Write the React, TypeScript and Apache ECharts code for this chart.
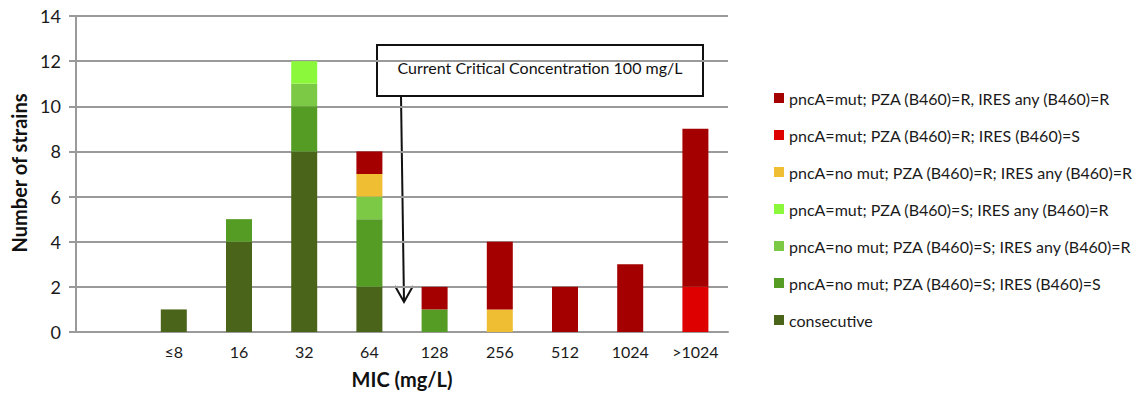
import React, { useEffect, useRef } from "react";
import * as echarts from "echarts";

const categories = ["", "≤8", "16", "32", "64", "128", "256", "512", "1024", ">1024"];

const consecutive = [0, 1, 4, 8, 2, 0, 0, 0, 0, 0];
const noMutSS = [0, 0, 1, 2, 3, 1, 0, 0, 0, 0];
const noMutSR = [0, 0, 0, 1, 1, 0, 0, 0, 0, 0];
const mutSR = [0, 0, 0, 1, 0, 0, 0, 0, 0, 0];
const noMutRR = [0, 0, 0, 0, 1, 0, 1, 0, 0, 0];
const mutRS = [0, 0, 0, 0, 0, 0, 0, 0, 0, 2];
const mutRR = [0, 0, 0, 0, 1, 1, 3, 2, 3, 7];

const seriesDefs = [
  { name: "consecutive", data: consecutive, color: "#4A6419" },
  { name: "pncA=no mut; PZA (B460)=S; IRES (B460)=S", data: noMutSS, color: "#559C24" },
  { name: "pncA=no mut; PZA (B460)=S; IRES any (B460)=R", data: noMutSR, color: "#7CC945" },
  { name: "pncA=mut; PZA (B460)=S; IRES any (B460)=R", data: mutSR, color: "#8CF83C" },
  { name: "pncA=no mut; PZA (B460)=R; IRES any (B460)=R", data: noMutRR, color: "#F0BE32" },
  { name: "pncA=mut; PZA (B460)=R; IRES (B460)=S", data: mutRS, color: "#DE0000" },
  { name: "pncA=mut; PZA (B460)=R, IRES any (B460)=R", data: mutRR, color: "#A50000" },
];

const FONT = "Lato, 'Open Sans', sans-serif";

export default function App() {
  const ref = useRef<HTMLDivElement>(null);
  useEffect(() => {
    if (!ref.current) return;
    const chart = echarts.init(ref.current, undefined, { renderer: "svg" });
    chart.setOption({
      animation: false,
      backgroundColor: "#ffffff",
      textStyle: { fontFamily: FONT },
      grid: { left: 76, right: 406, top: 16, bottom: 61, containLabel: false },
      legend: {
        orient: "vertical",
        left: 774,
        top: 90,
        padding: 0,
        itemWidth: 10,
        itemHeight: 10,
        itemGap: 21,
        icon: "rect",
        data: seriesDefs.map((s) => s.name).reverse(),
        textStyle: { fontFamily: FONT, fontSize: 16, color: "#1a1a1a", lineHeight: 16 },
      },
      xAxis: {
        type: "category",
        data: categories,
        axisLine: { show: true, lineStyle: { color: "#9a9a9a", width: 2 } },
        axisTick: { show: false },
        axisLabel: { fontFamily: FONT, fontSize: 16, color: "#1a1a1a", margin: 11 },
      },
      yAxis: {
        type: "value",
        min: 0,
        max: 14,
        interval: 2,
        axisLine: { show: true, lineStyle: { color: "#9a9a9a", width: 2 } },
        axisTick: { show: true, length: 7, lineStyle: { color: "#9a9a9a", width: 2 } },
        splitLine: { show: true, lineStyle: { color: "#9a9a9a", width: 2 } },
        axisLabel: { fontFamily: FONT, fontSize: 18, color: "#1a1a1a", margin: 15 },
      },
      series: seriesDefs.map((s) => ({
        name: s.name,
        type: "bar",
        stack: "total",
        data: s.data,
        barWidth: 26,
        itemStyle: { color: s.color },
      })),
      graphic: [
        {
          type: "text",
          x: 19,
          y: 173,
          rotation: Math.PI / 2,
          style: {
            text: "Number of strains",
            fontFamily: FONT,
            fontSize: 20,
            fontWeight: "bold",
            fill: "#111",
            align: "center",
            verticalAlign: "middle",
          },
        },
        {
          type: "text",
          x: 402,
          y: 379,
          style: {
            text: "MIC (mg/L)",
            fontFamily: FONT,
            fontSize: 20,
            fontWeight: "bold",
            fill: "#111",
            align: "center",
            verticalAlign: "middle",
          },
        },
        {
          type: "rect",
          shape: { x: 377, y: 45, width: 326, height: 51 },
          style: { fill: "#ffffff", stroke: "#111", lineWidth: 2 },
        },
        {
          type: "text",
          x: 540,
          y: 67,
          style: {
            text: "Current Critical Concentration 100 mg/L",
            fontFamily: FONT,
            fontSize: 16,
            fill: "#111",
            align: "center",
            verticalAlign: "middle",
          },
        },
        {
          type: "line",
          shape: { x1: 401, y1: 96, x2: 404, y2: 302 },
          style: { stroke: "#111", lineWidth: 2 },
        },
        {
          type: "polyline",
          shape: { points: [[395, 286], [404, 302], [413, 286]] },
          style: { stroke: "#111", lineWidth: 2, fill: "none" },
        },
      ],
    });
    return () => chart.dispose();
  }, []);
  return (
    <div
      ref={ref}
      style={{ position: "fixed", left: 0, top: 0, width: 1134, height: 393 }}
    />
  );
}
